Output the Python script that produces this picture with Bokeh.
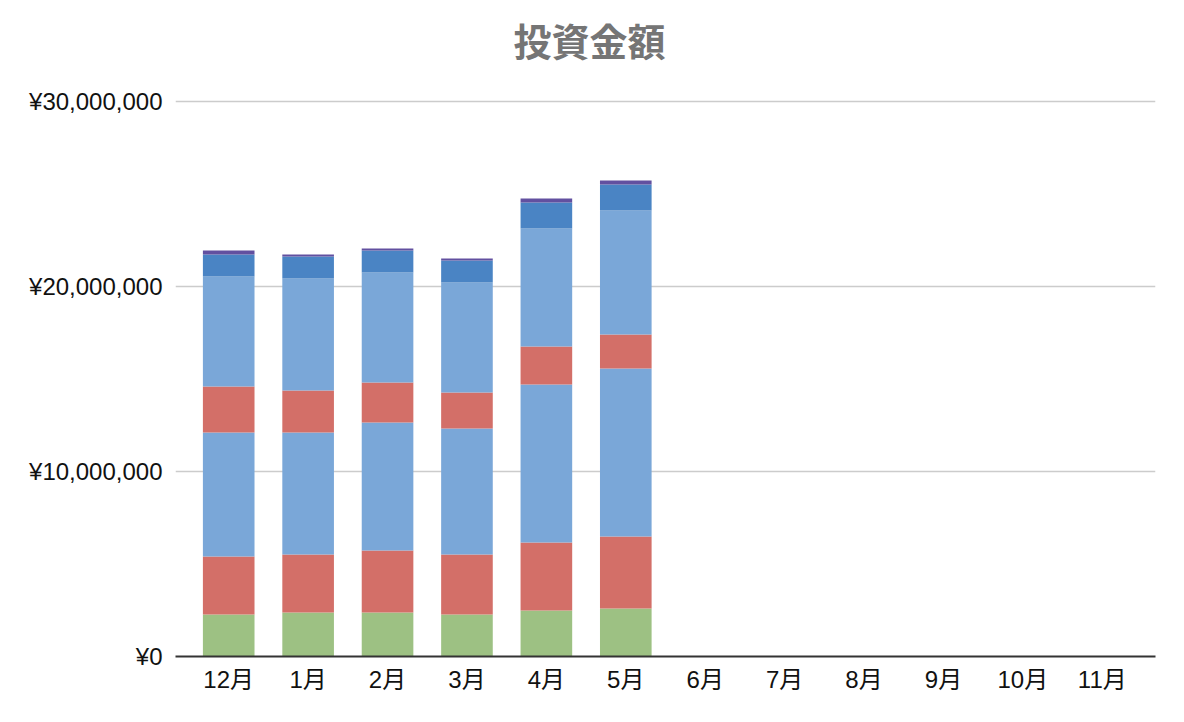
from bokeh.plotting import figure
from bokeh.models import FactorRange, Range1d, FixedTicker, Label
from bokeh.embed import file_html
from bokeh.resources import INLINE

months = ["12月", "1月", "2月", "3月", "4月", "5月", "6月", "7月", "8月", "9月", "10月", "11月"]

# stacked segments, bottom to top (yen)
s1 = [2270000, 2380000, 2380000, 2270000, 2490000, 2590000, 0, 0, 0, 0, 0, 0]
s2 = [3140000, 3130000, 3350000, 3240000, 3670000, 3900000, 0, 0, 0, 0, 0, 0]
s3 = [6700000, 6600000, 6920000, 6810000, 8540000, 9080000, 0, 0, 0, 0, 0, 0]
s4 = [2480000, 2270000, 2160000, 1950000, 2060000, 1840000, 0, 0, 0, 0, 0, 0]
s5 = [5950000, 6050000, 5950000, 5950000, 6380000, 6700000, 0, 0, 0, 0, 0, 0]
s6 = [1190000, 1190000, 1190000, 1190000, 1400000, 1400000, 0, 0, 0, 0, 0, 0]
s7 = [220000, 110000, 100000, 100000, 220000, 220000, 0, 0, 0, 0, 0, 0]

y_ticks = [0, 10000000, 20000000, 30000000]
y_tick_labels = ["¥0", "¥10,000,000", "¥20,000,000", "¥30,000,000"]

title_text = "投資金額"

series = ["s1", "s2", "s3", "s4", "s5", "s6", "s7"]
colors = ["#9DC183", "#D36F68", "#7AA7D8", "#D36F68", "#7AA7D8", "#4A84C4", "#6250A0"]

data = {"month": months, "s1": s1, "s2": s2, "s3": s3, "s4": s4, "s5": s5, "s6": s6, "s7": s7}

# frame spans from the top of the canvas down to the axis; the 30M gridline sits
# 555px above the axis and the headroom above it holds the title
p = figure(
    x_range=FactorRange(*months, range_padding=0.17, range_padding_units="absolute"),
    y_range=Range1d(0, 34918919),
    width=1176, height=706,
    min_border_left=175, min_border_right=21, min_border_top=10, min_border_bottom=50,
    output_backend="svg", toolbar_location=None,
)

p.vbar_stack(series, x="month", width=0.65, color=colors, line_color=None, source=data)

p.title = None
title = Label(x=5.043, y=33350000, text=title_text, text_align="center", text_baseline="middle",
              text_font="Noto Sans CJK JP", text_font_size="38px", text_font_style="bold",
              text_color="#757575")
p.add_layout(title)

p.yaxis.ticker = FixedTicker(ticks=y_ticks)
p.yaxis.major_label_overrides = {v: l for v, l in zip(y_ticks, y_tick_labels)}
p.yaxis.axis_line_color = None
p.yaxis.major_tick_line_color = None
p.yaxis.minor_tick_line_color = None
p.yaxis.major_label_standoff = 7
p.yaxis.major_label_text_font_size = "24px"
p.yaxis.major_label_text_font = "Liberation Sans"
p.yaxis.major_label_text_color = "#111111"

p.xaxis.axis_line_color = "#333333"
p.xaxis.axis_line_width = 2
p.xaxis.major_tick_line_color = None
p.xaxis.minor_tick_line_color = None
p.xaxis.major_label_standoff = 3
p.xaxis.major_label_text_font_size = "24px"
p.xaxis.major_label_text_font = "Liberation Sans, Noto Sans CJK JP"
p.xaxis.major_label_text_color = "#111111"

p.xgrid.grid_line_color = None
p.ygrid.grid_line_color = "#CCCCCC"
p.ygrid.grid_line_width = 1.5
p.outline_line_color = None

open("out.html", "w").write(file_html(p, INLINE))
